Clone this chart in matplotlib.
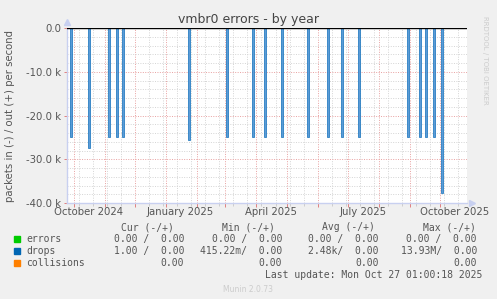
import datetime as dt
import matplotlib
matplotlib.use("Agg")
import matplotlib.pyplot as plt
import matplotlib.dates as mdates
from matplotlib.ticker import FixedLocator, FuncFormatter
import matplotlib.transforms as mtransforms

# spikes of "drops" (received side, drawn negative)
drop_dates = ["2024-09-28", "2024-10-16", "2024-11-05", "2024-11-13", "2024-11-19",
              "2025-01-24", "2025-03-03", "2025-03-29", "2025-04-10", "2025-04-26",
              "2025-05-22", "2025-06-11", "2025-06-25", "2025-07-12", "2025-08-30",
              "2025-09-11", "2025-09-17", "2025-09-25", "2025-10-03"]
drop_values = [-25000, -27500, -25000, -25000, -25000,
               -25700, -25000, -25000, -25000, -25000,
               -25000, -25000, -25000, -25000, -25000,
               -25000, -25000, -25000, -37600]

x_labels = ["October 2024", "January 2025", "April 2025", "July 2025", "October 2025"]
x_label_dates = ["2024-10-16", "2025-01-15", "2025-04-15", "2025-07-16", "2025-10-16"]

legend_names = ["errors", "drops", "collisions"]
legend_colors = ["#00cc00", "#0066b3", "#ff8000"]
cur_vals = ["0.00 /  0.00", "1.00 /  0.00", "0.00"]
min_vals = ["0.00 /  0.00", "415.22m/  0.00", "0.00"]
avg_vals = ["0.00 /  0.00", "2.48k/  0.00", "0.00"]
max_vals = ["0.00 /  0.00", "13.93M/  0.00", "0.00"]

W, H = 497, 299
fig = plt.figure(figsize=(W / 100, H / 100), dpi=100, facecolor="#f0f0f0")
ax = fig.add_axes([67 / W, 1 - 203 / H, 400 / W, 175 / H])
ax.set_facecolor("white")

d = lambda s: dt.datetime.strptime(s, "%Y-%m-%d")
xs = [d(s) for s in drop_dates]

ax.bar(xs, drop_values, width=2.0, color="#5c9bd6", edgecolor="#1070bb",
       linewidth=0.5, zorder=3)
ax.axhline(0, color="black", lw=1.0, zorder=4)

ax.set_xlim(d("2024-09-24"), d("2025-10-28"))
ax.set_ylim(-40000, 0)

# grid: red major (months), grey minor (two weeks)
months = []
y, m = 2024, 10
while (y, m) <= (2025, 10):
    months.append(mdates.date2num(dt.datetime(y, m, 1)))
    m += 1
    if m > 12:
        y, m = y + 1, 1
weeks = [mdates.date2num(d("2024-10-06") + dt.timedelta(days=14 * k)) for k in range(28)]
ax.xaxis.set_major_locator(FixedLocator(months))
ax.xaxis.set_minor_locator(FixedLocator(weeks))
ax.xaxis.set_major_formatter(FuncFormatter(lambda v, p: ""))
ax.yaxis.set_major_locator(FixedLocator(range(-40000, 1, 10000)))
ax.yaxis.set_minor_locator(FixedLocator(range(-40000, 1, 2000)))

def yfmt(v, p):
    if v == 0:
        return "0.0"
    return "%.1f k" % (v / 1000)
ax.yaxis.set_major_formatter(FuncFormatter(yfmt))

ax.grid(which="major", color="#e8a0a0", lw=0.7, linestyle=(0, (1, 1.5)), zorder=1)
ax.grid(which="minor", color="#d4d4d4", lw=0.7, linestyle=(0, (1, 1.5)), zorder=1)
ax.tick_params(which="major", axis="x", length=3, color="#e08080", width=0.7)
ax.tick_params(which="minor", axis="x", length=2, color="#cccccc", width=0.7)
ax.tick_params(which="major", axis="y", length=2, color="#e08080", width=0.7,
               labelsize=7.3, labelcolor="#555555", pad=2)
ax.tick_params(which="minor", axis="y", length=0)

for s in ["top", "right"]:
    ax.spines[s].set_visible(False)
for s in ["left", "bottom"]:
    ax.spines[s].set_color("#c8d0f0")
    ax.spines[s].set_linewidth(1)
ax.plot([0], [1.035], marker="^", color="#c8d0f0", ms=5, transform=ax.transAxes, clip_on=False)
ax.plot([1.012], [0], marker=">", color="#c8d0f0", ms=5, transform=ax.transAxes, clip_on=False)

trans = mtransforms.blended_transform_factory(ax.transData, fig.transFigure)
for lab, ds in zip(x_labels, x_label_dates):
    ax.text(d(ds), 1 - 212 / H, lab, transform=trans, ha="center", va="center",
            fontsize=7.3, color="#555555")

fig.text(248 / W, 1 - 20 / H, "vmbr0 errors - by year", ha="center", va="center",
         fontsize=9, color="#444444")
fig.text(10 / W, 1 - 116 / H, "packets in (-) / out (+) per second", rotation=90,
         ha="center", va="center", fontsize=7.3, color="#555555")
fig.text(485 / W, 1 - 60 / H, "RRDTOOL / TOBI OETIKER", rotation=270,
         ha="center", va="center", fontsize=5, color="#cccccc")

mono = "DejaVu Sans Mono"
fs = 7
col = "#555555"
hy = 1 - 227 / H
for txt, x0 in [("Cur (-/+)", 121), ("Min (-/+)", 221.7), ("Avg (-/+)", 322), ("Max (-/+)", 422.7)]:
    fig.text(x0 / W, hy, txt, family=mono, fontsize=fs, color=col, ha="left", va="center")

rows_y = [239.3, 251.3, 263]
for i, name in enumerate(legend_names):
    yy = 1 - rows_y[i] / H
    fig.patches.append(plt.Rectangle((14 / W, 1 - (rows_y[i] + 3) / H), 6 / W, 6 / H,
                                     transform=fig.transFigure, color=legend_colors[i]))
    fig.text(26.3 / W, yy, name, family=mono, fontsize=fs, color=col, ha="left", va="center")
    for vals, xe in [(cur_vals, 184), (min_vals, 282), (avg_vals, 378.5), (max_vals, 477)]:
        fig.text(xe / W, yy, vals[i], family=mono, fontsize=fs, color=col, ha="right", va="center")

fig.text(482 / W, 1 - 275 / H, "Last update: Mon Oct 27 01:00:18 2025", family=mono,
         fontsize=fs, color=col, ha="right", va="center")
fig.text(248 / W, 1 - 289 / H, "Munin 2.0.73", fontsize=5.5, color="#cccccc",
         ha="center", va="center")

fig.savefig("out.png", dpi=100, facecolor=fig.get_facecolor())
